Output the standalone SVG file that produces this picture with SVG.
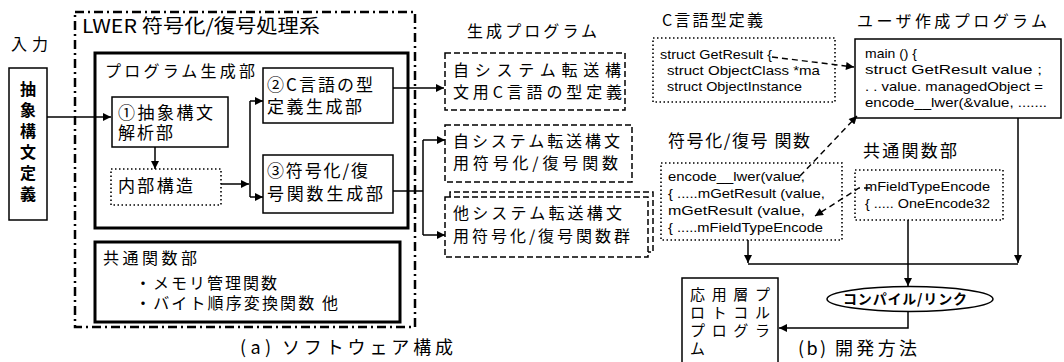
<svg xmlns="http://www.w3.org/2000/svg" width="1064" height="362" viewBox="0 0 1064 362">
<style>
.j{font-family:"Noto Sans CJK JP","Noto Sans CJK SC",sans-serif;fill:#000}
.c{font-family:"Liberation Sans","DejaVu Sans",sans-serif;font-size:13.5px;fill:#000}
.b{fill:#fff;stroke:#000;stroke-width:1.5}
.thick{fill:none;stroke:#000;stroke-width:3}
.dot{fill:#fff;stroke:#000;stroke-width:1.6;stroke-dasharray:1.5 2.5}
.dash{fill:#fff;stroke:#000;stroke-width:1.5;stroke-dasharray:6 3}
.ln{fill:none;stroke:#000;stroke-width:1.5}
.dl{fill:none;stroke:#000;stroke-width:1.4;stroke-dasharray:6 4}
</style>
<defs>
<marker id="ah" viewBox="0 0 10 10" refX="10" refY="5" markerWidth="9" markerHeight="8" orient="auto" markerUnits="userSpaceOnUse"><path d="M0,0 L10,5 L0,10 z" fill="#000"/></marker>
</defs>
<rect width="1064" height="362" fill="#fff"/>

<g id="system">
<rect x="75" y="12" width="340" height="315" fill="none" stroke="#000" stroke-width="2.5" stroke-dasharray="9 4 2 4"/>
<text class="j" x="82" y="33" font-size="19" textLength="238" lengthAdjust="spacingAndGlyphs">LWER 符号化/復号処理系</text>
</g>

<g id="input-label"><text class="j" x="11" y="50" font-size="16" textLength="37">入力</text></g>

<g id="input">
<rect class="b" x="9" y="68" width="38" height="152"/>
<g class="j" font-size="16" font-weight="bold" text-anchor="middle">
<text x="28" y="95">抽</text><text x="28" y="116">象</text><text x="28" y="137">構</text><text x="28" y="158">文</text><text x="28" y="179">定</text><text x="28" y="200">義</text>
</g>
</g>

<g id="progen">
<rect class="thick" x="95" y="53" width="313" height="175"/>
<text class="j" x="105" y="77" font-size="16" textLength="150">プログラム生成部</text>
</g>

<g id="parse">
<rect class="b" x="112" y="97" width="116" height="50"/>
<text class="j" x="118" y="119" font-size="17" textLength="95">①抽象構文</text>
<text class="j" x="118" y="139" font-size="17" textLength="55">解析部</text>
</g>

<g id="internal">
<rect class="dot" x="111" y="169" width="110" height="36"/>
<text class="j" x="118" y="192" font-size="17" textLength="75">内部構造</text>
</g>

<g id="typegen">
<rect class="b" x="263" y="68" width="130" height="55"/>
<text class="j" x="267" y="91" font-size="17" textLength="106">②C言語の型</text>
<text class="j" x="267" y="113" font-size="17" textLength="95">定義生成部</text>
</g>

<g id="codecgen">
<rect class="b" x="263" y="155" width="130" height="58"/>
<text class="j" x="267" y="177" font-size="17" textLength="101">③符号化/復</text>
<text class="j" x="267" y="200" font-size="17" textLength="116">号関数生成部</text>
</g>

<g id="common-a">
<rect class="thick" x="95" y="242" width="305" height="80"/>
<text class="j" x="103" y="264" font-size="16" textLength="94">共通関数部</text>
<text class="j" x="135" y="289" font-size="16" textLength="142">・メモリ管理関数</text>
<text class="j" x="135" y="309" font-size="16" textLength="203">・バイト順序変換関数 他</text>
</g>

<g id="gen-label"><text class="j" x="467" y="37" font-size="16" textLength="130">生成プログラム</text></g>

<g id="gen1">
<rect class="dash" x="445" y="53" width="180" height="57"/>
<text class="j" x="453" y="76" font-size="16" textLength="168">自システム転送構</text>
<text class="j" x="453" y="98" font-size="16" textLength="169">文用C言語の型定義</text>
</g>

<g id="gen2">
<rect class="dash" x="445" y="125" width="187" height="57"/>
<text class="j" x="453" y="147" font-size="16" textLength="167">自システム転送構文</text>
<text class="j" x="453" y="169" font-size="16" textLength="165">用符号化/復号関数</text>
</g>

<g id="gen3">
<path class="dash" d="M450,197 V192 H653 V252 H648" fill="none"/>
<rect class="dash" x="445" y="197" width="203" height="60"/>
<text class="j" x="453" y="219" font-size="16" textLength="169">他システム転送構文</text>
<text class="j" x="453" y="242" font-size="16" textLength="177">用符号化/復号関数群</text>
</g>

<g id="ctype">
<text class="j" x="662" y="26" font-size="16" textLength="101">C言語型定義</text>
<rect class="dot" x="653" y="38" width="182" height="64"/>
<text class="c" x="660" y="59" textLength="112" lengthAdjust="spacingAndGlyphs">struct GetResult {</text>
<text class="c" x="667" y="75" textLength="153" lengthAdjust="spacingAndGlyphs">struct ObjectClass *ma</text>
<text class="c" x="667" y="91" textLength="135" lengthAdjust="spacingAndGlyphs">struct ObjectInstance</text>
</g>

<g id="user">
<text class="j" x="857" y="27" font-size="16" textLength="190">ユーザ作成プログラム</text>
<rect class="b" x="855" y="39" width="206" height="79"/>
<text class="c" x="865" y="58" textLength="52" lengthAdjust="spacingAndGlyphs">main () {</text>
<text class="c" x="865" y="74" textLength="177" lengthAdjust="spacingAndGlyphs">struct GetResult  value ;</text>
<text class="c" x="865" y="91" textLength="178" lengthAdjust="spacingAndGlyphs">. . value. managedObject =</text>
<text class="c" x="865" y="107" textLength="182" lengthAdjust="spacingAndGlyphs">encode__lwer(&amp;value, .......</text>
</g>

<g id="codec">
<text class="j" x="668" y="147" font-size="17" textLength="142">符号化/復号 関数</text>
<rect class="dot" x="661" y="163" width="181" height="77"/>
<text class="c" x="668" y="181" textLength="137" lengthAdjust="spacingAndGlyphs">encode__lwer(value,</text>
<text class="c" x="668" y="198" textLength="157" lengthAdjust="spacingAndGlyphs">{ .....mGetResult (value,</text>
<text class="c" x="668" y="215" textLength="137" lengthAdjust="spacingAndGlyphs">mGetResult (value,</text>
<text class="c" x="668" y="232" textLength="155" lengthAdjust="spacingAndGlyphs">{ .....mFieldTypeEncode</text>
</g>

<g id="common-b">
<text class="j" x="863" y="157" font-size="17" textLength="94">共通関数部</text>
<rect class="dot" x="855" y="170" width="148" height="50"/>
<text class="c" x="865" y="191" textLength="125" lengthAdjust="spacingAndGlyphs">mFieldTypeEncode</text>
<text class="c" x="865" y="208" textLength="125" lengthAdjust="spacingAndGlyphs">{ ..... OneEncode32</text>
</g>

<g id="compile">
<ellipse cx="910" cy="299" rx="83" ry="12.5" fill="#fff" stroke="#000" stroke-width="1.5"/>
<text class="j" x="843" y="304" font-size="14" font-weight="bold" textLength="124">コンパイル/リンク</text>
</g>

<g id="app">
<rect class="b" x="682" y="278" width="96" height="92"/>
<text class="j" x="690" y="300" font-size="15" textLength="80">応用層プ</text>
<text class="j" x="690" y="318" font-size="15" textLength="80">ロトコル</text>
<text class="j" x="690" y="336" font-size="15" textLength="80">プログラ</text>
<text class="j" x="690" y="354" font-size="15">ム</text>
</g>

<g id="captions">
<text class="j" x="240" y="354" font-size="18"><tspan x="240" textLength="31">(a)</tspan><tspan x="282" textLength="171">ソフトウェア構成</tspan></text>
<text class="j" x="798" y="355" font-size="18"><tspan x="798" textLength="28">(b)</tspan><tspan x="835" textLength="82">開発方法</tspan></text>
</g>

<g id="connectors">
<path class="ln" d="M47,117 H111" marker-end="url(#ah)"/>
<path class="ln" d="M155,147 V169" marker-end="url(#ah)"/>
<path class="ln" d="M221,184 H249" marker-end="url(#ah)"/>
<path class="ln" d="M250,101 V197"/>
<path class="ln" d="M250,101 H263" marker-end="url(#ah)"/>
<path class="ln" d="M250,197 H263" marker-end="url(#ah)"/>
<path class="ln" d="M393,88 H444" marker-end="url(#ah)"/>
<path class="ln" d="M393,191 H423"/>
<path class="ln" d="M423,140 V235"/>
<path class="ln" d="M423,140 H445" marker-end="url(#ah)"/>
<path class="ln" d="M423,235 H445" marker-end="url(#ah)"/>
<path class="dl" d="M772,57 L854,67" marker-end="url(#ah)"/>
<path class="dl" d="M800,176 L857,116" marker-end="url(#ah)"/>
<path class="dl" d="M870,188 H859 L815,216" marker-end="url(#ah)"/>
<path class="ln" d="M748,240 V263" marker-end="url(#ah)"/>
<path class="ln" d="M1018,118 V263" marker-end="url(#ah)"/>
<path class="ln" d="M748,264 H1018"/>
<path class="ln" d="M908,220 V286" marker-end="url(#ah)"/>
<path class="ln" d="M908,312 V328 H779" marker-end="url(#ah)"/>
</g>
</svg>
